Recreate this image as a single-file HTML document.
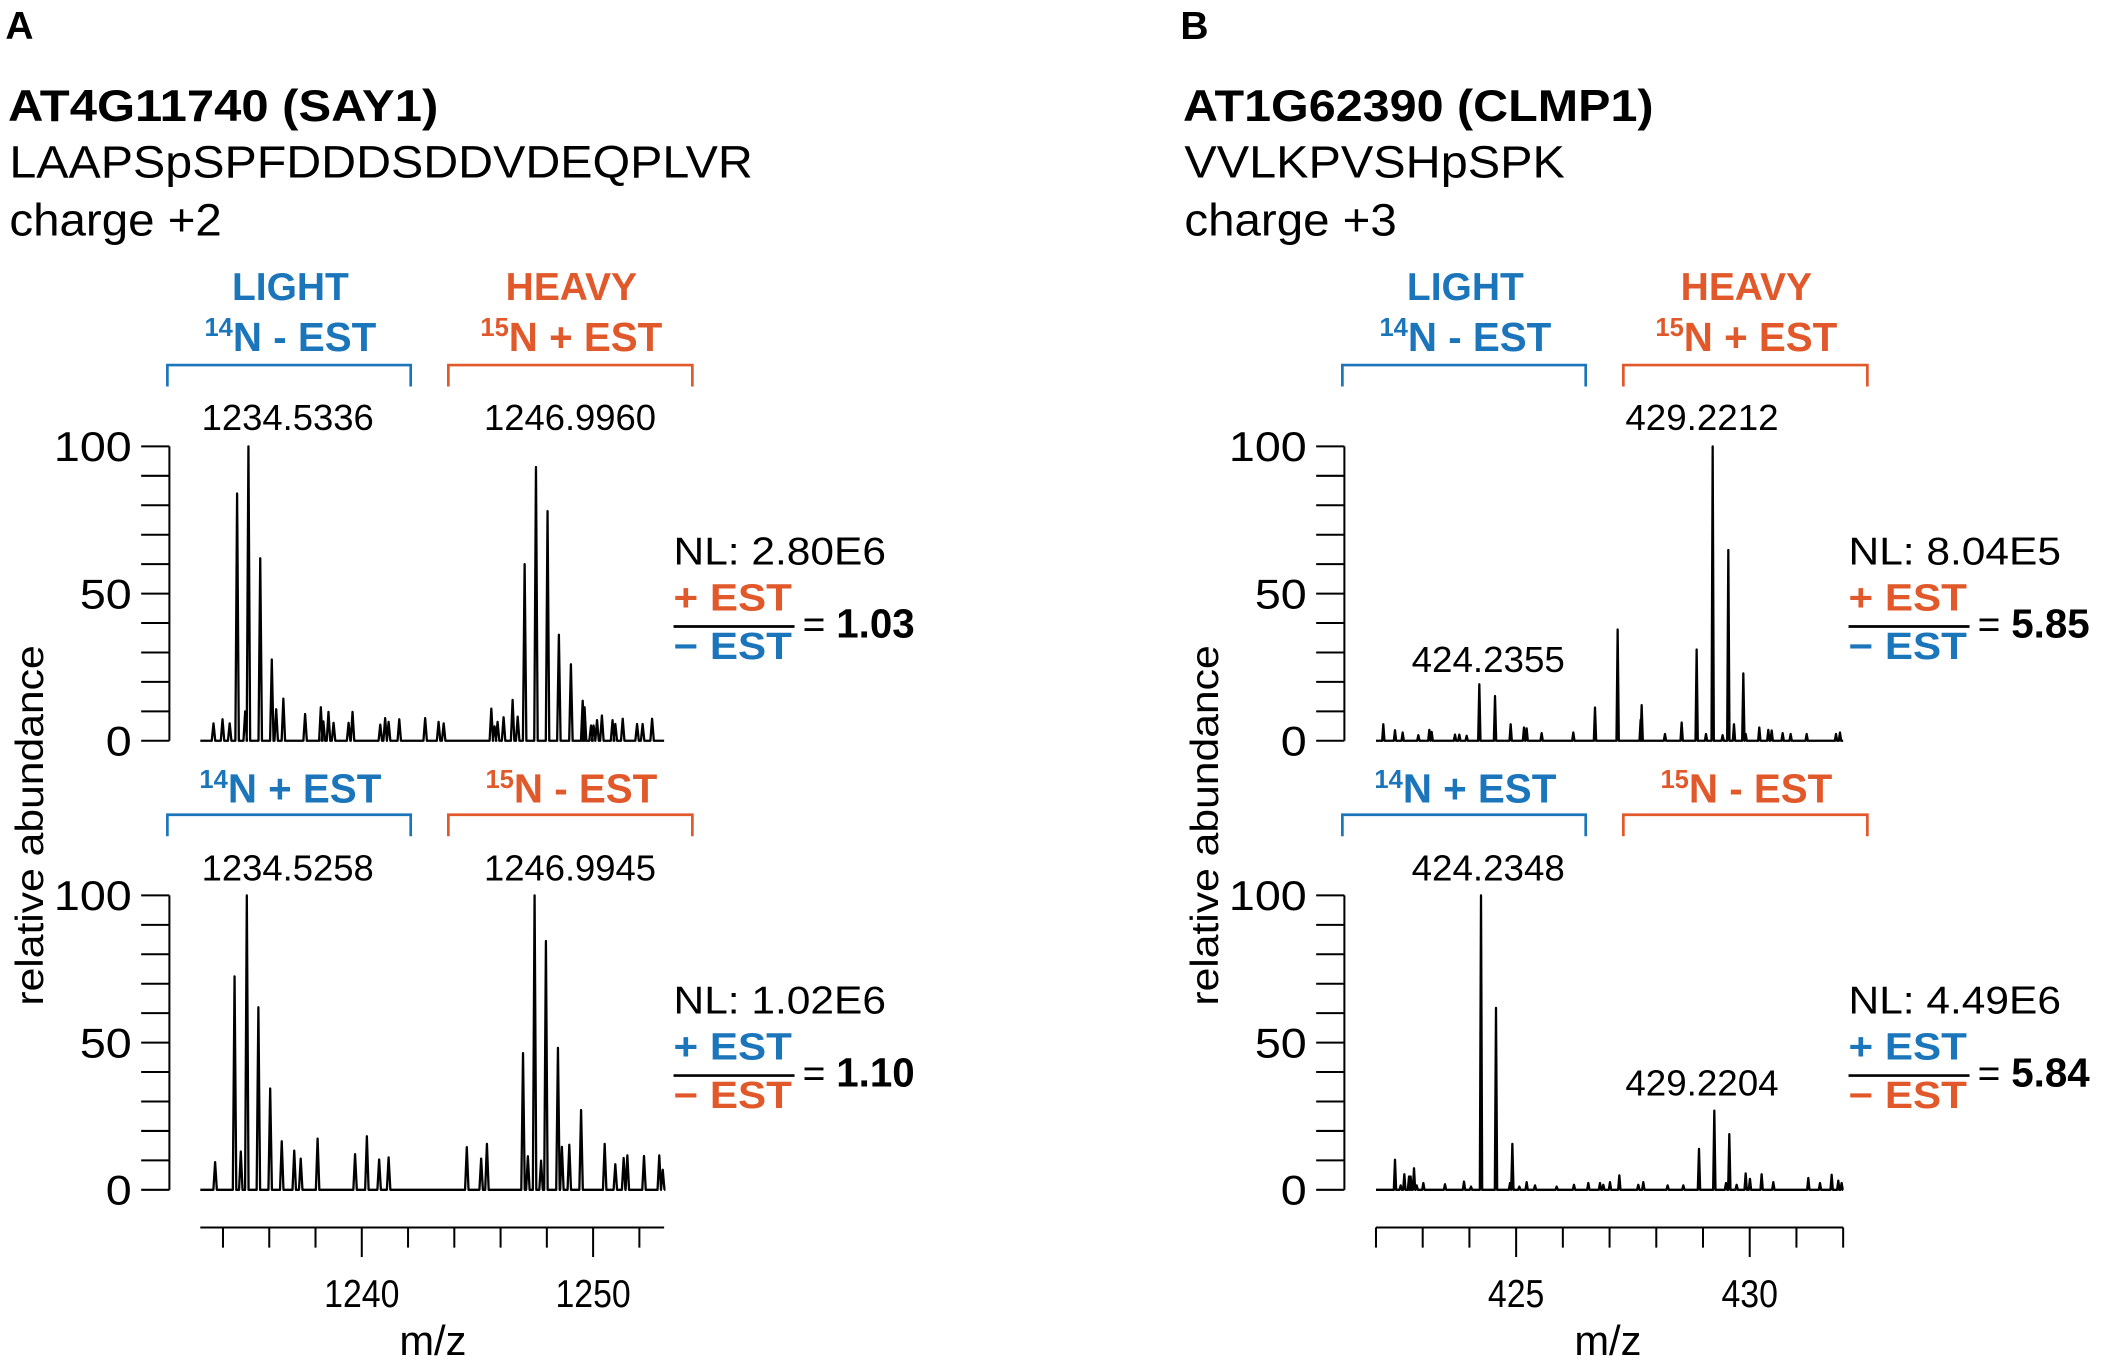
<!DOCTYPE html>
<html><head><meta charset="utf-8"><style>
html,body{margin:0;padding:0;background:#fff;}
svg{display:block;font-family:"Liberation Sans",Arial,sans-serif;}
</style></head><body>
<svg id="fig" width="2108" height="1370" viewBox="0 0 1568 1019" xmlns="http://www.w3.org/2000/svg">
<rect width="1568" height="1019" fill="#fff"/>
<g>
<text x="4" y="29" font-size="29" font-weight="bold">A</text>
<text x="6" y="90" font-size="33" font-weight="bold" textLength="320" lengthAdjust="spacingAndGlyphs">AT4G11740 (SAY1)</text>
<text x="7" y="132" font-size="34" textLength="553" lengthAdjust="spacingAndGlyphs">LAAPSpSPFDDDSDDVDEQPLVR</text>
<text x="7" y="175" font-size="34" textLength="158" lengthAdjust="spacingAndGlyphs">charge +2</text>
</g>
<g>
<text x="878" y="29" font-size="29" font-weight="bold">B</text>
<text x="880" y="90" font-size="33" font-weight="bold" textLength="350" lengthAdjust="spacingAndGlyphs">AT1G62390 (CLMP1)</text>
<text x="881" y="132" font-size="34" textLength="283" lengthAdjust="spacingAndGlyphs">VVLKPVSHpSPK</text>
<text x="881" y="175" font-size="34" textLength="158" lengthAdjust="spacingAndGlyphs">charge +3</text>
</g>
<g id="annot"></g>
<g id="plots"></g>
</svg>
<script>
// ---- Panel A data (m/z, relative intensity %) ----
const aTopMz=[1233.59,1233.98,1234.29,1234.61,1234.96,1235.10,1235.61,1236.11,1236.30,1236.61,1237.55,1238.23,1238.34,1238.56,1238.78,1239.43,1239.60,1240.80,1241.01,1241.16,1241.62,1242.74,1243.32,1243.54,1245.60,1245.74,1245.87,1246.13,1246.52,1246.74,1247.04,1247.53,1248.03,1248.52,1249.04,1249.55,1249.63,1249.91,1250.02,1250.17,1250.38,1250.84,1250.96,1251.28,1251.90,1252.14,1252.55];
const aTopInt=[5.9,7.3,5.9,84,10,100,62,27.6,10.7,14.3,9.1,11.4,6.6,9.8,6.1,6.1,9.8,5.5,7.7,6.4,7.3,7.7,6.4,5.9,10.9,4.9,6.4,8.0,13.9,8.2,60,93,78,36,26,13.6,11.4,5.2,5.2,7.0,8.6,7.0,5.7,7.5,5.7,5.7,7.5];
const aBotMz=[1233.66,1234.50,1234.77,1235.03,1235.53,1236.04,1236.54,1237.08,1237.36,1238.09,1239.71,1240.22,1240.75,1241.16,1244.54,1245.16,1245.41,1246.97,1247.18,1247.47,1247.75,1247.96,1248.48,1248.65,1248.97,1249.48,1250.50,1250.96,1251.32,1251.48,1252.20,1252.86,1253.01];
const aBotInt=[9.4,72.5,13,100,62,34.4,16.5,13.3,10.6,17.4,12.1,18.2,10.3,11.0,14.5,10.6,15.6,46.4,11.4,100,9.9,84.5,48.2,14.6,15.3,27.1,15.6,8.7,10.8,11.7,11.5,11.7,6.8];
// ---- Panel B data ----
const bTopMz=[422.157,422.407,422.571,422.907,423.142,423.192,423.691,423.784,423.941,424.212,424.548,424.883,425.168,425.225,425.546,426.224,426.688,427.173,427.665,427.687,428.186,428.543,428.864,429.064,429.207,429.420,429.542,429.663,429.863,429.913,430.205,430.398,430.470,430.705,430.876,431.219,431.847,431.932];
const bTopInt=[5.6,3.6,2.8,1.9,3.7,3.0,2.1,2.1,1.7,19.2,15.2,5.6,4.5,4.2,2.6,2.8,11.3,37.8,7.1,12.1,2.3,6.2,31.0,2.3,100,1.9,64.8,5.6,22.9,2.3,4.5,3.7,3.5,2.6,2.3,2.3,2.3,2.8];
const bBotMz=[422.407,422.528,422.607,422.707,422.742,422.814,422.871,423.014,423.477,423.884,424.034,424.248,424.569,424.869,424.919,425.068,425.225,425.404,425.867,426.238,426.545,426.795,426.866,427.009,427.209,427.615,427.722,428.243,428.579,428.914,429.242,429.492,429.563,429.720,429.913,430.005,430.255,430.505,431.254,431.504,431.754,431.896,431.967];
const bBotInt=[10.2,1.5,5.3,4.5,4.5,7.3,1.5,2.3,1.9,2.8,1.1,100,61.8,2.3,15.6,1.1,2.6,1.5,1.1,1.7,2.3,2.3,1.7,2.6,4.9,1.7,2.6,1.5,1.5,13.9,26.9,2.3,18.9,1.7,5.6,3.7,5.3,2.6,4.0,2.3,5.1,3.1,2.3];
const aTickVals=[1234,1236,1238,1240,1242,1244,1246,1248,1250,1252];
const aTickLabels=[1240,1250];
const bTickVals=[422,423,424,425,426,427,428,429,430,431,432];
const bTickLabels=[425,430];
const yTickVals=[0,10,20,30,40,50,60,70,80,90,100];
const yTickLabels=[0,50,100];

const NS='http://www.w3.org/2000/svg';
const BLUE='#1b75bb', ORANGE='#e1582a';
const plots=document.getElementById('plots');
const annot=document.getElementById('annot');
function mk(tag,attrs,parent,txt){const e=document.createElementNS(NS,tag);for(const k in attrs)e.setAttribute(k,attrs[k]);if(txt!==undefined)e.textContent=txt;parent.appendChild(e);return e;}

const panels=[
 {id:'a',axisX:126,L:149,R:494,min:1233.02,max:1253.07,w:0.075,ticks:aTickVals,labels:aTickLabels,
  spectra:[{mz:aTopMz,it:aTopInt,y0:551,y100:332},{mz:aBotMz,it:aBotInt,y0:885,y100:666}]},
 {id:'b',axisX:1000,L:1023.5,R:1371,min:422,max:432,w:0.025,ticks:bTickVals,labels:bTickLabels,
  spectra:[{mz:bTopMz,it:bTopInt,y0:551,y100:332},{mz:bBotMz,it:bBotInt,y0:885,y100:666}]}
];

panels.forEach(p=>{
  const xs=v=>p.L+(v-p.min)/(p.max-p.min)*(p.R-p.L);
  const g=mk('g',{},plots);
  
  
  p.spectra.forEach((s,si)=>{
    const ys=v=>s.y0-(v/100)*(s.y0-s.y100);
    const ax=mk('line',{x1:p.axisX,x2:p.axisX,y1:s.y100,y2:s.y0,stroke:'#000','stroke-width':1.5},g);
    
    
    yTickVals.forEach(t=>{
      const tk=mk('line',{x1:p.axisX-21,x2:p.axisX,y1:ys(t),y2:ys(t),stroke:'#000','stroke-width':1.5},g);
      
      
    });
    yTickLabels.forEach(t=>{
      const s2=String(t);
      const tl=mk('text',{x:p.axisX-28,y:ys(t)+11,'font-size':31,'text-anchor':'end',textLength:19.3*s2.length,lengthAdjust:'spacingAndGlyphs'},g,s2);
      
      
    });
    const idx=s.mz.map((m,i)=>i).sort((a,b)=>s.mz[a]-s.mz[b]);
    let d='M'+p.L+','+s.y0;
    idx.forEach(i=>{const x=xs(s.mz[i]);const pw=(p.w/(p.max-p.min))*(p.R-p.L);
      d+=' L'+(x-pw).toFixed(2)+','+s.y0+' L'+x.toFixed(2)+','+ys(s.it[i]).toFixed(2)+' L'+(x+pw).toFixed(2)+','+s.y0;});
    d+=' L'+p.R+','+s.y0;
    const path=mk('path',{d:d,fill:'none',stroke:'#000','stroke-width':1.7,'stroke-linejoin':'round'},g);
    
    
  });
  const xa=mk('line',{x1:p.L,x2:p.R,y1:913,y2:913,stroke:'#000','stroke-width':1.5},g);
  
  
  p.ticks.forEach(t=>{
    const major=p.labels.indexOf(t)>=0;
    const tk=mk('line',{x1:xs(t),x2:xs(t),y1:913,y2:major?935:928,stroke:'#000','stroke-width':1.5},g);
    
    
  });
  p.labels.forEach(t=>{
    const s2=String(t);
    const tl=mk('text',{x:xs(t),y:972,'font-size':29,'text-anchor':'middle',textLength:14*s2.length,lengthAdjust:'spacingAndGlyphs'},g,s2);
    
    
  });
});

function txt(x,y,s,opts,name){const t=mk('text',Object.assign({x:x,y:y},opts),annot,s);return t;}
function condLabel(cx,y,sup,rest,color,name){
  const t=mk('text',{x:cx,y:y,'font-size':30,'font-weight':'bold','text-anchor':'middle',fill:color},annot);
  
  
  mk('tspan',{'font-size':19,dy:-11},t,sup);
  mk('tspan',{dy:11},t,rest);
}
function bracket(x1,x2,y,color,name){
  const b=mk('path',{d:'M'+x1+','+(y+16)+' L'+x1+','+y+' L'+x2+','+y+' L'+x2+','+(y+16),fill:'none',stroke:color,'stroke-width':2},annot);
  
  
}
[{dx:0,p:'a'},{dx:874,p:'b'}].forEach(o=>{
  const d=o.dx;
  txt(216+d,223,'LIGHT',{'font-size':29,'font-weight':'bold','text-anchor':'middle',fill:BLUE},'light-label-'+o.p);
  txt(425+d,223,'HEAVY',{'font-size':29,'font-weight':'bold','text-anchor':'middle',fill:ORANGE},'heavy-label-'+o.p);
  condLabel(216+d,261,'14','N - EST',BLUE,'condition-14n-minus-est-'+o.p);
  condLabel(425+d,261,'15','N + EST',ORANGE,'condition-15n-plus-est-'+o.p);
  bracket(124.5+d,305.5+d,271.5,BLUE,'light-bracket-top-'+o.p);
  bracket(333.5+d,515+d,271.5,ORANGE,'heavy-bracket-top-'+o.p);
  condLabel(216+d,597,'14','N + EST',BLUE,'condition-14n-plus-est-'+o.p);
  condLabel(425+d,597,'15','N - EST',ORANGE,'condition-15n-minus-est-'+o.p);
  bracket(124.5+d,305.5+d,606,BLUE,'light-bracket-bottom-'+o.p);
  bracket(333.5+d,515+d,606,ORANGE,'heavy-bracket-bottom-'+o.p);
  txt(0,0,'relative abundance',{'font-size':29,'text-anchor':'middle',transform:'translate('+(32+d)+',614) rotate(-90)',textLength:268,lengthAdjust:'spacingAndGlyphs'},'y-axis-title-'+o.p);
  txt(322+d,1008,'m/z',{'font-size':31,'text-anchor':'middle'},'x-axis-title-'+o.p);
});
const pk=[[214,320,'1234.5336'],[424,320,'1246.9960'],[214,655,'1234.5258'],[424,655,'1246.9945'],
          [1266,320,'429.2212'],[1107,500,'424.2355'],[1107,655,'424.2348'],[1266,815,'429.2204']];
pk.forEach(a=>txt(a[0],a[1],a[2],{'font-size':27,'text-anchor':'middle',textLength:a[2].length>8?128:114,lengthAdjust:'spacingAndGlyphs'},'peak-label'));
function ratio(x,y,nl,topC,botC,val,name){
  txt(x,y,'NL: '+nl,{'font-size':29,textLength:158,lengthAdjust:'spacingAndGlyphs'},'nl-'+name);
  txt(x,y+34,'+ EST',{'font-size':28,'font-weight':'bold',fill:topC,textLength:88,lengthAdjust:'spacingAndGlyphs'},'ratio-numerator-'+name);
  const l=mk('line',{x1:x,x2:x+90,y1:y+46,y2:y+46,stroke:'#000','stroke-width':2},annot);
  
  
  txt(x,y+70,'\u2212 EST',{'font-size':28,'font-weight':'bold',fill:botC,textLength:88,lengthAdjust:'spacingAndGlyphs'},'ratio-denominator-'+name);
  const t=txt(x+96,y+54,'= ',{'font-size':29},'ratio-value-'+name);
  mk('tspan',{'font-weight':'bold','font-size':30},t,val);
}
ratio(501,420,'2.80E6',ORANGE,BLUE,'1.03','a-top');
ratio(501,754,'1.02E6',BLUE,ORANGE,'1.10','a-bottom');
ratio(1375,420,'8.04E5',ORANGE,BLUE,'5.85','b-top');
ratio(1375,754,'4.49E6',BLUE,ORANGE,'5.84','b-bottom');
</script>
</body></html>
